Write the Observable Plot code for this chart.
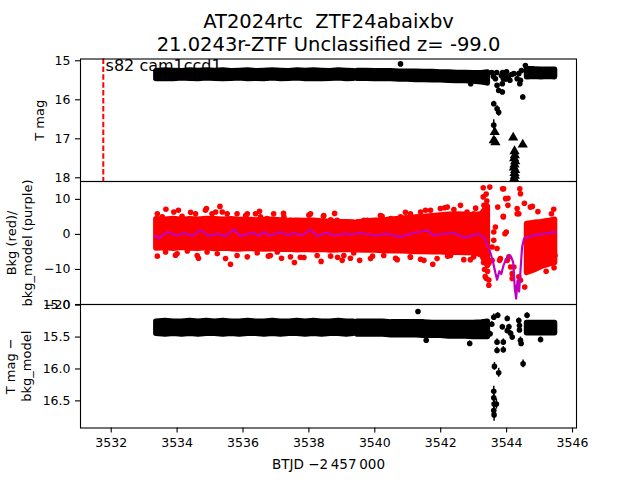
<!DOCTYPE html>
<html><head><meta charset="utf-8">
<script src="https://cdn.jsdelivr.net/npm/d3@7"></script>
<script src="https://cdn.jsdelivr.net/npm/@observablehq/plot@0.6"></script>
<style>
body{margin:0;background:#fff;}
#chart{position:relative;width:640px;height:480px;font-family:"DejaVu Sans",sans-serif;}
#chart svg{position:absolute;left:0;top:0;}
</style></head><body><div id="chart"></div>
<script>
// ---------------- data ----------------
const titleLines = ["AT2024rtc  ZTF24abaixbv", "21.0243r-ZTF Unclassified z= -99.0"];
const sectorT = [3531.76];
const sectorLabel = ["s82 cam1ccd1"];
const sectorLabelPos = [3531.83, 15.25];
const xTicks = [3532, 3534, 3536, 3538, 3540, 3542, 3544, 3546];
const tmagTicks = [15, 16, 17, 18];
const bkgTicks = [10, 0, -10, -20];
const diffTicks = [15.0, 15.5, 16.0, 16.5];
const xLabel = "BTJD \u22122\u2009457\u2009000";

// dense band of observations (time samples, lower / upper envelope)
const bandT = [3533.37,3533.65,3533.90,3534.15,3534.40,3534.65,3534.90,3535.15,3535.40,3535.65,3535.90,3536.15,3536.40,3536.65,3536.90,3537.15,3537.40,3537.65,3537.90,3538.15,3538.40,3538.65,3538.90,3539.15,3539.36,
  3539.47,3539.75,3540.00,3540.25,3540.50,3540.75,3541.00,3541.25,3541.50,3541.75,3542.00,3542.25,3542.50,3542.75,3543.00,3543.25,3543.43,
  3544.62,3544.85,3545.05,3545.28,3545.47];
const tmagLo = [15.27,15.25,15.26,15.27,15.25,15.26,15.25,15.26,15.25,15.27,15.26,15.25,15.27,15.26,15.25,15.26,15.27,15.25,15.26,15.25,15.26,15.27,15.25,15.26,15.27,
  15.26,15.26,15.27,15.27,15.27,15.28,15.28,15.28,15.29,15.29,15.30,15.30,15.31,15.31,15.32,15.32,15.30,
  15.22,15.22,15.23,15.23,15.23];
const tmagHi = [15.47,15.46,15.47,15.45,15.46,15.47,15.45,15.46,15.47,15.46,15.45,15.47,15.46,15.47,15.45,15.47,15.46,15.45,15.47,15.46,15.47,15.46,15.45,15.47,15.46,
  15.46,15.46,15.47,15.47,15.47,15.48,15.48,15.49,15.49,15.50,15.50,15.51,15.52,15.52,15.53,15.55,15.58,
  15.42,15.41,15.42,15.41,15.42];
const bkgLo = [-4.0,-3.9,-4.1,-3.8,-4.0,-4.1,-3.9,-4.2,-4.0,-4.2,-4.3,-4.1,-4.2,-4.3,-4.2,-4.4,-4.3,-4.5,-4.4,-4.5,-4.4,-4.6,-4.5,-4.4,-4.5,
  -4.5,-4.6,-4.6,-4.7,-4.8,-4.8,-4.9,-5.0,-5.0,-5.1,-5.1,-5.2,-5.2,-5.3,-5.3,-6.0,-9.0,
  -11.0,-10.2,-9.3,-8.6,-8.2];
const bkgHi = [4.3,4.2,4.4,4.1,4.3,4.2,4.4,4.3,4.2,4.3,4.1,4.2,4.0,4.1,4.2,4.0,3.8,3.9,3.8,3.9,3.7,3.6,3.5,3.5,3.4,
  3.4,3.6,3.9,4.0,4.2,4.4,4.6,4.8,5.0,5.2,5.4,5.6,5.7,5.6,5.4,5.8,8.0,
  3.0,3.3,3.5,3.8,4.2];
const diffLo = [15.26,15.25,15.26,15.26,15.25,15.26,15.25,15.26,15.25,15.26,15.26,15.25,15.26,15.26,15.25,15.26,15.26,15.25,15.26,15.25,15.26,15.26,15.25,15.26,15.26,
  15.26,15.26,15.26,15.26,15.27,15.27,15.27,15.27,15.27,15.28,15.28,15.28,15.28,15.28,15.28,15.27,15.26,
  15.28,15.28,15.28,15.28,15.28];
const diffHi = [15.45,15.46,15.45,15.46,15.45,15.46,15.45,15.45,15.46,15.45,15.46,15.45,15.45,15.46,15.45,15.46,15.45,15.45,15.46,15.45,15.46,15.45,15.45,15.46,15.45,
  15.46,15.46,15.46,15.46,15.47,15.47,15.47,15.47,15.48,15.48,15.48,15.49,15.49,15.49,15.50,15.50,15.50,
  15.44,15.44,15.44,15.44,15.44];

// individual (scattered) photometry points: time, mag, error
const tmagPtT = [3540.78,3542.91,3543.55,3543.60,3543.66,3543.70,3543.71,3543.76,3543.87,3543.87,3543.88,3543.84,3543.95,3543.90,3543.61,3543.71,3543.76,3543.61,3544.00,3544.05,3544.10,3544.15,3543.97,3544.22,3544.32,3544.37,3544.42,3544.40,3544.49,3544.57,3544.45];
const tmagPtM = [15.08,15.59,15.30,15.40,15.46,15.30,15.63,15.76,15.59,15.80,15.30,15.38,15.38,15.46,16.10,16.23,16.32,16.65,15.28,15.40,15.50,15.35,15.47,15.33,15.46,15.33,15.50,15.59,15.93,15.12,15.25];
const tmagPtE = [0.03,0.04,0.04,0.04,0.05,0.04,0.05,0.06,0.05,0.06,0.04,0.04,0.04,0.04,0.06,0.08,0.10,0.14,0.04,0.04,0.05,0.04,0.05,0.04,0.05,0.04,0.05,0.05,0.06,0.03,0.04];
// upper limits (triangles)
const limT = [3543.64,3543.61,3543.66,3544.20,3544.49,3544.24,3544.25,3544.23,3544.26,3544.24,3544.22,3544.26,3544.24,3544.25,3544.23];
const limM = [16.83,17.04,17.09,16.97,17.15,17.32,17.42,17.50,17.58,17.66,17.74,17.80,17.88,17.95,18.02];

const diffPtT = [3541.31,3541.56,3542.88,3543.50,3543.55,3543.61,3543.73,3543.87,3543.71,3543.71,3543.90,3543.90,3543.63,3543.76,3543.61,3543.61,3543.62,3543.61,3543.62,3543.69,3544.02,3544.07,3544.12,3544.17,3544.02,3544.37,3544.39,3544.42,3544.44,3544.39,3544.50,3544.62,3545.03];
const diffPtM = [15.10,15.55,15.60,15.45,15.30,15.19,15.16,15.34,15.58,15.71,15.58,15.70,15.96,16.06,16.35,16.45,16.55,16.65,16.72,16.55,15.21,15.34,15.44,15.50,15.40,15.24,15.39,15.55,15.60,15.32,15.92,15.16,15.54];
const diffPtE = [0.03,0.04,0.04,0.04,0.04,0.05,0.04,0.04,0.05,0.05,0.05,0.05,0.06,0.07,0.08,0.08,0.10,0.10,0.10,0.08,0.04,0.04,0.04,0.05,0.04,0.04,0.04,0.05,0.05,0.04,0.06,0.04,0.04];

// background points outside the dense band
const bkgPtT = [3533.66,3535.30,3534.89,3536.13,3538.00,3538.44,3533.40,3535.62,3535.47,3537.56,3538.37,3539.01,3534.04,3534.41,3536.50,3537.23,3538.78,3533.95,3534.65,3536.77,3537.17,3537.74,3538.87,3539.26,
  3533.40,3533.55,3533.90,3534.15,3534.56,3534.86,3535.06,3535.17,3535.37,3535.52,3535.82,3536.08,3536.38,3536.53,3536.73,3536.93,3537.24,3537.44,3538.05,3538.35,3538.45,3538.66,3538.86,3539.16,
  3533.65,3534.00,3534.31,3534.61,3534.91,3535.22,3535.82,3536.13,3536.43,3536.83,3537.04,3537.44,3537.85,3538.25,3538.66,3539.06,3539.36,
  3539.47,3539.67,3539.77,3540.17,3540.48,3540.78,3541.08,3541.39,3541.69,3541.99,3542.20,3542.40,3542.80,3543.00,
  3539.87,3540.27,3540.68,3541.08,3541.49,3541.89,3542.30,3542.70,3543.00,
  3539.54,3540.22,3542.60,3542.12,3541.76,3539.93,3540.63,3541.08,3541.39,3542.21,3542.90,3540.93,3541.54,3543.06,
  3543.29,3543.49,3543.29,3543.31,3543.33,3543.30,3543.33,3543.35,3543.46,3543.73,3543.66,3543.61,3543.56,3543.56,3543.46,3543.46,3543.91,3543.99,3544.04,3544.04,3543.90,3543.79,3544.02,3544.07,3544.12,3544.17,3544.37,3544.42,3544.55,3544.32,3544.32,3544.54,3544.78,3544.40,3545.36,3543.97,3544.42,3544.72,3543.95,3543.61,3543.71,3543.81,3544.17,3544.32,3544.22,3544.37,3543.88,3543.90,
  3543.38,3543.40,3543.42,3543.38,3545.44,3545.47,3545.20,3544.95,3545.43];
const bkgPtV = [7.2,8.0,7.4,5.9,5.5,5.2,-6.2,-8.5,-6.9,-8.0,-7.7,-7.4,6.9,6.3,6.6,6.0,6.0,-5.95,-6.8,-6.2,-6.8,-6.5,-6.5,-6.8,
  5.9,5.0,6.4,5.2,5.9,6.9,5.9,6.4,6.4,5.9,5.9,5.4,5.9,5.0,4.5,5.9,5.0,4.0,5.9,3.5,5.4,4.2,4.0,3.5,
  -5.0,-5.5,-4.7,-6.0,-5.0,-5.5,-6.0,-6.4,-5.3,-6.0,-5.0,-6.4,-6.6,-6.0,-6.2,-6.0,-5.3,
  3.5,4.0,4.0,5.4,4.5,5.0,5.9,6.4,6.9,7.4,7.8,7.1,6.4,5.9,
  -6.9,-6.0,-7.2,-6.4,-7.4,-6.9,-6.0,-7.2,-6.4,
  -7.4,5.2,8.3,7.6,-8.5,-6.2,-6.8,-6.5,-7.1,-6.2,-7.2,6.3,6.9,7.5,
  13.3,13.5,10.7,8.3,6.0,-8.0,-10.0,-12.0,-14.5,7.8,2.1,-1.7,-3.6,-7.4,-8.2,-13.0,13.0,0.7,10.3,8.3,5.0,-7.4,-7.4,-6.4,-9.3,-11.2,-12.1,-13.1,-15.0,7.4,5.9,8.9,8.0,13.0,5.9,10.2,11.6,7.8,0.2,0.7,-4.0,-6.9,-12.6,-15.0,-9.3,5.9,13.0,5.2,
  11.5,9.5,-10.5,-12.5,-9.5,-6.0,-10.5,6.5,7.2];

// background model (purple)
const modelT = [3533.34,3533.44,3533.70,3534.00,3534.25,3534.46,3534.71,3534.96,3535.22,3535.47,3535.72,3535.92,3536.33,3536.48,3536.63,3536.83,3537.14,3537.34,3537.54,3537.80,3538.05,3538.25,3538.56,3538.76,3539.06,3539.26,
  3539.57,3539.97,3540.38,3540.78,3541.18,3541.59,3541.79,3542.09,3542.40,3542.70,3542.90,3543.11,3543.31,
  3543.48,3543.58,3543.66,3543.71,3543.78,3543.84,3543.90,3543.97,3544.07,3544.14,3544.20,3544.25,3544.29,3544.33,3544.38,3544.43,3544.47,3544.53,3544.65,3544.85,3545.00,3545.20,3545.40,3545.50];
const modelV = [-0.3,-1.2,0.7,-0.3,0.4,-0.5,1.2,-0.5,0.2,-0.5,1.45,-0.5,0.5,-0.5,0.7,-0.3,0.7,-0.3,0.4,-0.3,1.45,-0.5,0.5,-0.3,0.2,0.0,
  0.4,-0.3,0.2,-0.7,0.4,1.2,-0.3,0.2,0.4,-0.9,-0.5,0.2,-0.7,
  -4.4,-7.5,-11.0,-12.9,-10.5,-11.3,-9.0,-7.4,-5.9,-6.5,-8.0,-15.5,-18.3,-13.2,-16.3,-9.0,-3.6,-1.2,-0.7,-0.2,0.0,0.3,0.6,0.7];

// ---------------- build ----------------
const segOf = t => t < 3539.42 ? 1 : t < 3544 ? 2 : 3;
const band = (lo, hi) => bandT.map((t, i) => ({t, seg: segOf(t), lo: lo[i], hi: hi[i]}));
const pts = (T, M, E) => T.map((t, i) => ({t, m: M[i], e: E ? E[i] : 0}));

const W = 640, H = 480, ML = 80, MR = 64;
const xDomain = [3531.068, 3546.121];
const frames = [{top: 58.5, bottom: 181}, {top: 181, bottom: 304}, {top: 304, bottom: 427.5}];
const minus = d => (d < 0 ? "\u2212" + Math.abs(d) : String(d));
const ff = "DejaVu Sans";
const ylab = (s, dx) => Plot.text([s], {frameAnchor: "left", textAnchor: "middle", dx, rotate: -90, fontSize: 13});

function panel(i, y, marks, showXAxis) {
  return Plot.plot({
    width: W, height: H,
    marginLeft: ML, marginRight: MR,
    marginTop: frames[i].top, marginBottom: H - frames[i].bottom,
    style: {background: "transparent", fontFamily: ff, fontSize: "12.5px", color: "black", overflow: "visible"},
    x: {domain: xDomain, axis: null},
    y: {...y, axis: null},
    marks: [
      ...marks,
      Plot.frame({stroke: "black", strokeWidth: 1.1}),
      showXAxis ? Plot.axisX({ticks: xTicks, tickSize: 5, tickPadding: 5, tickFormat: d => String(d), label: null, strokeWidth: 1.1}) : null
    ]
  });
}

const chart = document.getElementById("chart");

// panel 1 : T mag
const p1 = panel(0, {domain: [14.954, 18.095], reverse: true}, [
  Plot.ruleX(sectorT, {x: d => d, stroke: "red", strokeWidth: 2, strokeDasharray: "5.5,2.4"}),
  Plot.areaY(band(tmagLo, tmagHi), {x: "t", y1: "lo", y2: "hi", z: "seg", fill: "black", stroke: "black", strokeWidth: 5.5, strokeLinejoin: "round"}),
  Plot.ruleX(pts(tmagPtT, tmagPtM, tmagPtE), {x: "t", y1: d => d.m - d.e, y2: d => d.m + d.e, stroke: "black", strokeWidth: 1.5}),
  Plot.dot(pts(tmagPtT, tmagPtM, tmagPtE), {x: "t", y: "m", r: 2.8, fill: "black"}),
  Plot.dot(pts(limT, limM), {x: "t", y: "m", r: 3.8, symbol: "triangle", fill: "black"}),
  Plot.text(sectorLabel, {x: () => sectorLabelPos[0], y: () => sectorLabelPos[1], text: d => d, textAnchor: "start", lineAnchor: "bottom", fontSize: 16}),
  Plot.axisY({ticks: tmagTicks, tickSize: 5, tickPadding: 5, tickFormat: minus, label: null, strokeWidth: 1.1}),
  ylab("T mag", -41),
  Plot.text([titleLines[0]], {frameAnchor: "top", dy: -31.5, lineAnchor: "bottom", fontSize: 19.5}),
  Plot.text([titleLines[1]], {frameAnchor: "top", dy: -8.5, lineAnchor: "bottom", fontSize: 19.5})
], false);
p1.style.background = "white";
chart.appendChild(p1);

// panel 2 : background
const p2 = panel(1, {domain: [-20, 15.1]}, [
  Plot.areaY(band(bkgLo, bkgHi), {x: "t", y1: "lo", y2: "hi", z: "seg", fill: "red", stroke: "red", strokeWidth: 5.5, strokeLinejoin: "round"}),
  Plot.dot(pts(bkgPtT, bkgPtV), {x: "t", y: "m", r: 2.8, fill: "red"}),
  Plot.line(pts(modelT, modelV), {x: "t", y: "m", stroke: "#bf00bf", strokeWidth: 2.2}),
  Plot.axisY({ticks: bkgTicks, tickSize: 5, tickPadding: 5, tickFormat: minus, label: null, strokeWidth: 1.1}),
  ylab("Bkg (red)/", -69),
  ylab("bkg_model (purple)", -53)
], false);
chart.appendChild(p2);

// panel 3 : T mag - bkg model
const p3 = panel(2, {domain: [14.99, 16.925], reverse: true}, [
  Plot.areaY(band(diffLo, diffHi), {x: "t", y1: "lo", y2: "hi", z: "seg", fill: "black", stroke: "black", strokeWidth: 5.5, strokeLinejoin: "round"}),
  Plot.ruleX(pts(diffPtT, diffPtM, diffPtE), {x: "t", y1: d => d.m - d.e, y2: d => d.m + d.e, stroke: "black", strokeWidth: 1.5}),
  Plot.dot(pts(diffPtT, diffPtM, diffPtE), {x: "t", y: "m", r: 2.8, fill: "black"}),
  Plot.axisY({ticks: diffTicks, tickSize: 5, tickPadding: 5, tickFormat: d3.format(".1f"), label: null, strokeWidth: 1.1}),
  ylab("T mag \u2212", -70),
  ylab("bkg_model", -54),
  Plot.text([xLabel], {frameAnchor: "bottom", dy: 40.8, lineAnchor: "bottom", fontSize: 13.5})
], true);
chart.appendChild(p3);
</script></body></html>
